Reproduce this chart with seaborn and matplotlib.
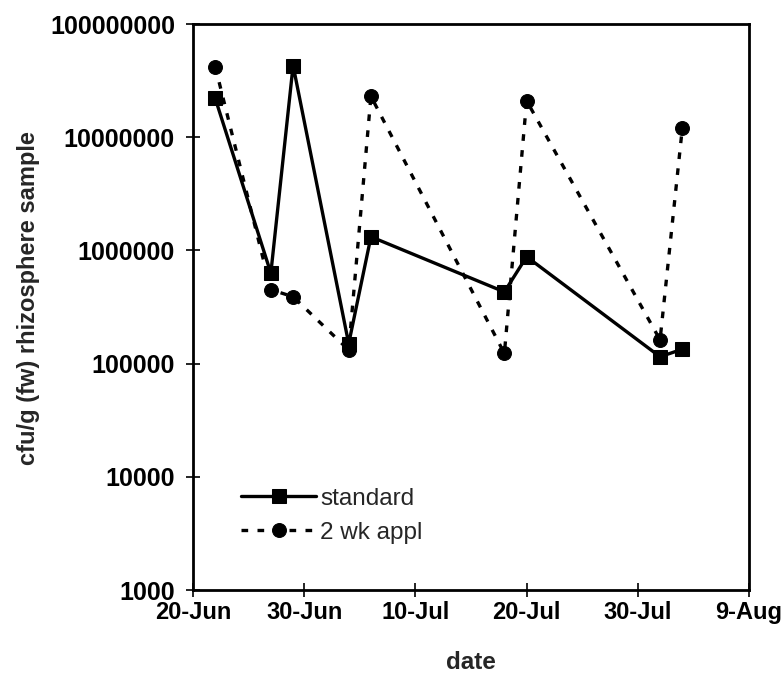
import matplotlib
matplotlib.use("Agg")
import matplotlib.pyplot as plt
import matplotlib.dates as mdates
import matplotlib.ticker as mticker
import pandas as pd
import seaborn as sns

# sampling dates and colony counts (cfu per g fresh weight)
dates = ["2000-06-22", "2000-06-27", "2000-06-29", "2000-07-04", "2000-07-06",
         "2000-07-18", "2000-07-20", "2000-08-01", "2000-08-03"]
standard = [2.2e7, 6.3e5, 4.3e7, 1.5e5, 1.32e6, 4.3e5, 8.8e5, 1.15e5, 1.34e5]
two_wk_appl = [4.2e7, 4.5e5, 3.9e5, 1.32e5, 2.3e7, 1.23e5, 2.1e7, 1.62e5, 1.2e7]

series_names = ["standard", "2 wk appl"]
tick_dates = ["2000-06-20", "2000-06-30", "2000-07-10", "2000-07-20",
              "2000-07-30", "2000-08-09"]
y_ticks = [1e3, 1e4, 1e5, 1e6, 1e7, 1e8]

df = pd.DataFrame({
    "date": pd.to_datetime(dates * 2),
    "cfu": standard + two_wk_appl,
    "treatment": [series_names[0]] * len(dates) + [series_names[1]] * len(dates),
})

sns.set_style("white")
plt.rcParams["font.family"] = ["Liberation Sans", "DejaVu Sans"]
plt.rcParams["font.weight"] = "bold"

fig = plt.figure(figsize=(7.83, 6.88), dpi=100)
ax = fig.add_axes([0.2465, 0.1424, 0.7101, 0.8227])

styles = {
    "standard": dict(marker="s", linestyle="-", linewidth=2.4, markersize=10),
    "2 wk appl": dict(marker="o", linestyle=(0, (2.0, 2.8)), linewidth=2.4, markersize=10),
}
for name in series_names:
    sub = df[df["treatment"] == name]
    sns.lineplot(data=sub, x="date", y="cfu", ax=ax, color="black",
                 markeredgecolor="black", label=name, **styles[name])

ax.set_yscale("log")
ax.set_ylim(1e3, 1e8)
ax.set_yticks(y_ticks)
ax.yaxis.set_major_formatter(mticker.FuncFormatter(lambda v, p: f"{int(round(v))}"))
ax.yaxis.set_minor_locator(mticker.NullLocator())

tick_dt = pd.to_datetime(tick_dates)
ax.set_xlim(tick_dt[0], tick_dt[-1])
ax.set_xticks(tick_dt)
ax.xaxis.set_major_formatter(mdates.DateFormatter("%-d-%b"))

ax.tick_params(axis="both", which="major", direction="inout", length=10, width=1.2,
               colors="black", bottom=True, left=True)
ax.tick_params(axis="y", pad=8, labelsize=18)
ax.tick_params(axis="x", pad=3, labelsize=17)
for lab in ax.get_xticklabels() + ax.get_yticklabels():
    lab.set_fontweight("bold")

for sp in ax.spines.values():
    sp.set_color("black")
    sp.set_linewidth(2.0)

ax.set_xlabel("date", fontsize=17.5, fontweight="bold", labelpad=19)
ax.set_ylabel("cfu/g (fw) rhizosphere sample", fontsize=17, fontweight="bold", labelpad=7.5)
ax.yaxis.label.set_y(0.516)

leg = ax.legend(loc="lower left", bbox_to_anchor=(0.047, 0.043), frameon=False,
                fontsize=17.5, handlelength=3.1, handletextpad=0.15, labelspacing=0.5)
for t in leg.get_texts():
    t.set_fontweight("normal")

fig.savefig("out.png", dpi=100, facecolor="white")
